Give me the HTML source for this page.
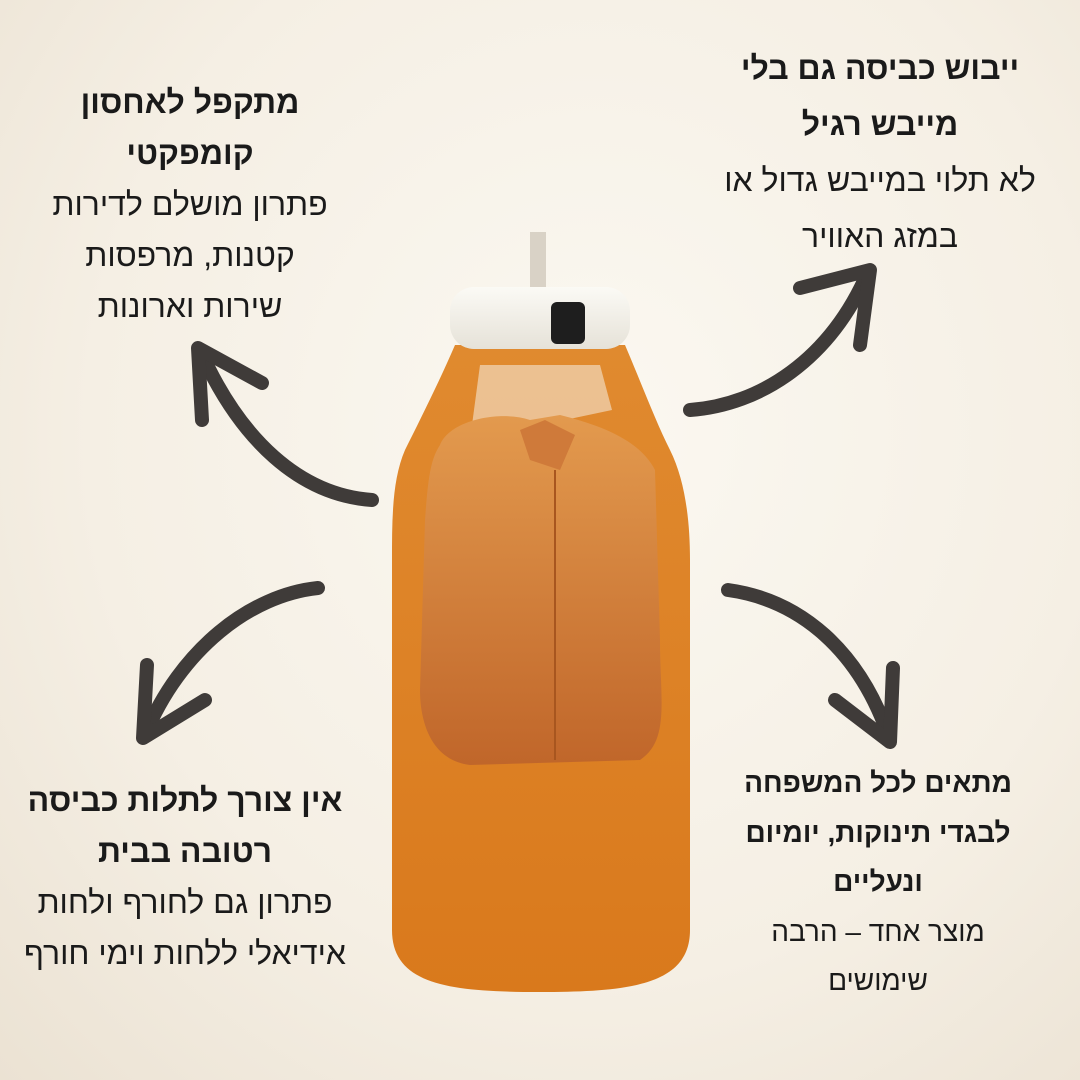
<!DOCTYPE html>
<html><head><meta charset="utf-8"><style>
html,body{margin:0;padding:0}
body{width:1080px;height:1080px;position:relative;overflow:hidden;background:radial-gradient(ellipse at 55% 40%,#fbf8f1 0%,#f5efe4 60%,#ebe2d3 100%);font-family:"Liberation Sans","Noto Sans CJK SC",sans-serif;color:#1a1a1a}
.t{position:absolute;text-align:center;direction:rtl;font-size:32px;line-height:51px}
.t b{font-weight:700}
</style></head><body>
<svg width="1080" height="1080" style="position:absolute;left:0;top:0">
<defs>
<linearGradient id="bag" x1="0" y1="0" x2="0" y2="1">
<stop offset="0" stop-color="#e08a2f"/><stop offset="0.5" stop-color="#dd8226"/><stop offset="1" stop-color="#d9791c"/></linearGradient>
<linearGradient id="shirt" x1="0" y1="0" x2="0" y2="1">
<stop offset="0" stop-color="#e39a4e"/><stop offset="1" stop-color="#c0662a"/></linearGradient>
<linearGradient id="dev" x1="0" y1="0" x2="0" y2="1"><stop offset="0" stop-color="#fbfaf5"/><stop offset="1" stop-color="#e6e2d8"/></linearGradient>
</defs>
<rect x="530" y="232" width="16" height="60" fill="#d9d2c6"/>
<path d="M455 345 C440 380 420 420 405 450 C392 480 392 520 392 560 L392 930 C392 985 450 992 540 992 C630 992 690 985 690 930 L690 560 C690 520 685 480 670 450 C655 420 640 380 625 345 Z" fill="url(#bag)"/>
<path d="M480 365 L600 365 L612 410 L470 440 Z" fill="#f5efe4" opacity="0.55"/>
<path d="M440 445 C450 420 500 410 530 420 L560 415 C600 425 640 440 655 470 L660 640 C660 700 670 740 640 760 L470 765 C430 760 420 720 420 690 L425 520 C428 480 430 460 440 445 Z" fill="url(#shirt)"/>
<path d="M520 430 L545 420 L575 435 L560 470 L530 460 Z" fill="#cf7a3a"/>
<line x1="555" y1="470" x2="555" y2="760" stroke="#a8561f" stroke-width="2"/>
<rect x="450" y="287" width="180" height="62" rx="24" fill="url(#dev)"/>
<rect x="551" y="302" width="34" height="42" rx="6" fill="#1e1e1e"/>
<g fill="none" stroke="#3f3b39" stroke-width="14" stroke-linecap="round" stroke-linejoin="round">
<path d="M372 500 C300 495 240 440 200 350"/>
<path d="M202 420 L198 348 L262 383"/>
<path d="M318 588 C250 595 180 650 145 735"/>
<path d="M147 665 L143 738 L205 700"/>
<path d="M690 410 C760 405 830 360 868 272"/>
<path d="M800 288 L870 270 L860 345"/>
<path d="M728 590 C800 600 860 650 890 740"/>
<path d="M835 700 L890 742 L893 668"/>
</g>
</svg>
<div class="t" style="left:20px;top:77px;width:340px"><b>מתקפל לאחסון<br>קומפקטי</b><br>פתרון מושלם לדירות<br>קטנות, מרפסות<br>שירות וארונות</div>
<div class="t" style="left:690px;top:40px;width:380px;line-height:56px"><b>ייבוש כביסה גם בלי<br>מייבש רגיל</b><br>לא תלוי במייבש גדול או<br>במזג האוויר</div>
<div class="t" style="left:0px;top:775px;width:370px"><b>אין צורך לתלות כביסה<br>רטובה בבית</b><br>פתרון גם לחורף ולחות<br>אידיאלי ללחות וימי חורף</div>
<div class="t" style="left:705px;top:758px;width:346px;font-size:28px;line-height:49.5px"><b>מתאים לכל המשפחה<br>לבגדי תינוקות, יומיום<br>ונעליים</b><br>מוצר אחד – הרבה<br>שימושים</div>
</body></html>
